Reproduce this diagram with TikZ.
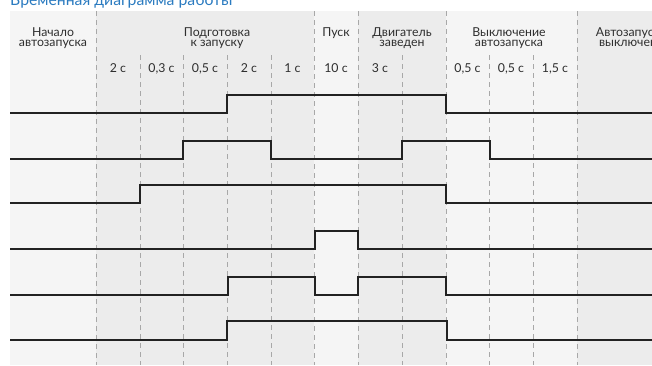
\documentclass[tikz,border=0pt]{standalone}
\usepackage{fontspec}
\setmainfont{Lato}
\definecolor{bglight}{HTML}{F5F5F5}
\definecolor{bgdark}{HTML}{ECECEC}
\definecolor{gridgray}{HTML}{A8A8A8}
\definecolor{sigcol}{HTML}{222222}
\definecolor{txtcol}{HTML}{2E2E2E}
\definecolor{titleblue}{HTML}{2B7BC0}
\begin{document}
\begin{tikzpicture}[x=1pt,y=-1pt,
  phase/.style={font=\fontsize{12.3}{10.8}\selectfont,text=txtcol,align=center,anchor=north,inner sep=0pt},
  dur/.style={font=\fontsize{12.3}{12}\selectfont,text=txtcol,anchor=base,inner sep=0pt},
  gridline/.style={draw=gridgray,line width=1pt,dash pattern=on 5pt off 4pt},
  signal/.style={draw=sigcol,line width=2.2pt,line join=miter}]
\useasboundingbox (0,0) rectangle (652,365);
% backgrounds
\fill[bglight] (10,11) rectangle (96,365);
\fill[bgdark] (96,11) rectangle (314,365);
\fill[bglight] (314,11) rectangle (358,365);
\fill[bgdark] (358,11) rectangle (446,365);
\fill[bglight] (446,11) rectangle (577,365);
\fill[bgdark] (577,11) rectangle (652,365);
% title
\node[font=\fontsize{15.8}{16}\selectfont,text=titleblue,anchor=base west,inner sep=0pt] (title) at (10,5) {Временная диаграмма работы};
% grid lines
\foreach \x in {96,314,358,446,577} \draw[gridline] (\x,11) -- (\x,365);
\foreach \x in {140,183,227,271,402,489,533} \draw[gridline] (\x,55) -- (\x,365);
% phase labels
\node[phase] (p1) at (53,27) {Начало\\автозапуска};
\node[phase] (p2) at (217,27) {Подготовка\\к запуску};
\node[phase] (p3) at (336,27) {Пуск};
\node[phase] (p4) at (402,27) {Двигатель\\заведен};
\node[phase] (p5) at (509,27) {Выключение\\автозапуска};
\node[phase] (p6) at (628,27) {Автозапуск\\выключен};
% durations
\node[dur] (d1) at (118,72) {2 с};
\node[dur] (d2) at (161.5,72) {0,3 с};
\node[dur] (d3) at (205,72) {0,5 с};
\node[dur] (d4) at (249,72) {2 с};
\node[dur] (d5) at (292.5,72) {1 с};
\node[dur] (d6) at (336,72) {10 с};
\node[dur] (d7) at (380,72) {3 с};
\node[dur] (d8) at (467.5,72) {0,5 с};
\node[dur] (d9) at (511,72) {0,5 с};
\node[dur] (d10) at (555,72) {1,5 с};
% signals
\draw[signal] (10,113) -- (227,113) -- (227,95) -- (446,95) -- (446,113) -- (652,113);
\draw[signal] (10,159) -- (183,159) -- (183,141) -- (271,141) -- (271,159) -- (402,159) -- (402,141) -- (490,141) -- (490,159) -- (652,159);
\draw[signal] (10,203) -- (140,203) -- (140,185) -- (446,185) -- (446,203) -- (652,203);
\draw[signal] (10,249) -- (315,249) -- (315,231) -- (358,231) -- (358,249) -- (652,249);
\draw[signal] (10,295) -- (228,295) -- (228,277) -- (315,277) -- (315,295) -- (358,295) -- (358,277) -- (446,277) -- (446,295) -- (652,295);
\draw[signal] (10,340) -- (227,340) -- (227,321) -- (447,321) -- (447,340) -- (652,340);
\end{tikzpicture}
\end{document}
